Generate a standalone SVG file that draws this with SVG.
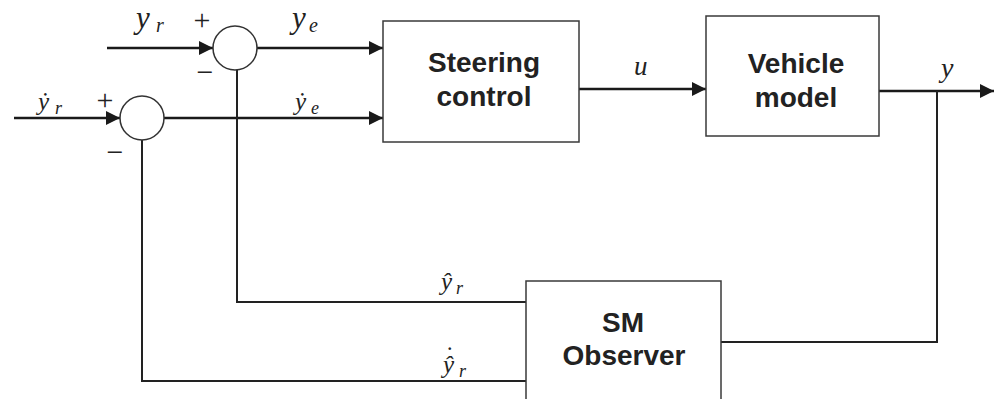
<svg xmlns="http://www.w3.org/2000/svg" width="994" height="399" viewBox="0 0 994 399">
<style>
.box{fill:#fff;stroke:#3a3a3a;stroke-width:1.5}
.sum{fill:#fff;stroke:#333;stroke-width:1.5}
.sig{fill:none;stroke:#1a1a1a;stroke-width:2.6}
.fb{fill:none;stroke:#222;stroke-width:2}
.lbl{font-family:"Liberation Sans",Arial,sans-serif;font-weight:bold;font-size:28px;fill:#222;text-anchor:middle}
.m{font-family:"Liberation Serif","DejaVu Serif","Times New Roman",serif;font-style:italic;fill:#222}
.op{font-family:"Liberation Serif","Times New Roman",serif;fill:#222;text-anchor:middle}
</style>
<defs>
<marker id="ah" markerUnits="userSpaceOnUse" markerWidth="15" markerHeight="14" refX="14" refY="7" orient="auto">
<path d="M0,0 L14,7 L0,14 z" fill="#1a1a1a"/>
</marker>
</defs>
<g id="connectors">
<path class="sig" d="M107,48 H213" marker-end="url(#ah)"/>
<path class="sig" d="M257,48 H383" marker-end="url(#ah)"/>
<path class="sig" d="M14,118 H120" marker-end="url(#ah)"/>
<path class="sig" d="M164,118 H383" marker-end="url(#ah)"/>
<path class="sig" d="M579,89 H706" marker-end="url(#ah)"/>
<path class="sig" d="M879,91 H994" marker-end="url(#ah)"/>
<path class="fb" d="M937,91 V342 H721"/>
<path class="fb" d="M526,302 H237 V70"/>
<path class="fb" d="M526,381 H142 V140"/>
</g>
<g id="sum1">
<circle class="sum" cx="235" cy="48" r="22"/>
<text class="op" x="202" y="30" font-size="30">+</text>
<text class="op" x="205" y="82" font-size="30">−</text>
</g>
<g id="sum2">
<circle class="sum" cx="142" cy="118" r="22"/>
<text class="op" x="105" y="110" font-size="30">+</text>
<text class="op" x="115" y="162" font-size="30">−</text>
</g>
<g id="steering">
<rect class="box" x="383" y="21" width="196" height="121"/>
<text class="lbl" x="484" y="72">Steering</text>
<text class="lbl" x="484" y="106">control</text>
</g>
<g id="vehicle">
<rect class="box" x="706" y="16" width="173" height="120"/>
<text class="lbl" x="796" y="73">Vehicle</text>
<text class="lbl" x="796" y="107">model</text>
</g>
<g id="observer">
<rect class="box" x="526" y="281" width="195" height="130"/>
<text class="lbl" x="623" y="332">SM</text>
<text class="lbl" x="624" y="365">Observer</text>
</g>
<g id="labels">
<text class="m" x="136" y="28" font-size="31">y</text>
<text class="m" x="156" y="32" font-size="20">r</text>
<text class="m" x="292" y="28" font-size="31">y</text>
<text class="m" x="309" y="32" font-size="20">e</text>
<text class="m" x="38" y="110" font-size="25">ẏ</text>
<text class="m" x="55" y="114" font-size="18">r</text>
<text class="m" x="295" y="110" font-size="25">ẏ</text>
<text class="m" x="311" y="114" font-size="18">e</text>
<text class="m" x="441" y="290" font-size="25">ŷ</text>
<text class="m" x="456" y="294" font-size="18">r</text>
<text class="m" x="443" y="373" font-size="25">ŷ<tspan dx="-10" dy="-9">˙</tspan><tspan x="459" dy="13" font-size="18">r</tspan></text>
<text class="m" x="634" y="75" font-size="27">u</text>
<text class="m" x="941" y="77" font-size="28">y</text>
</g>
</svg>
